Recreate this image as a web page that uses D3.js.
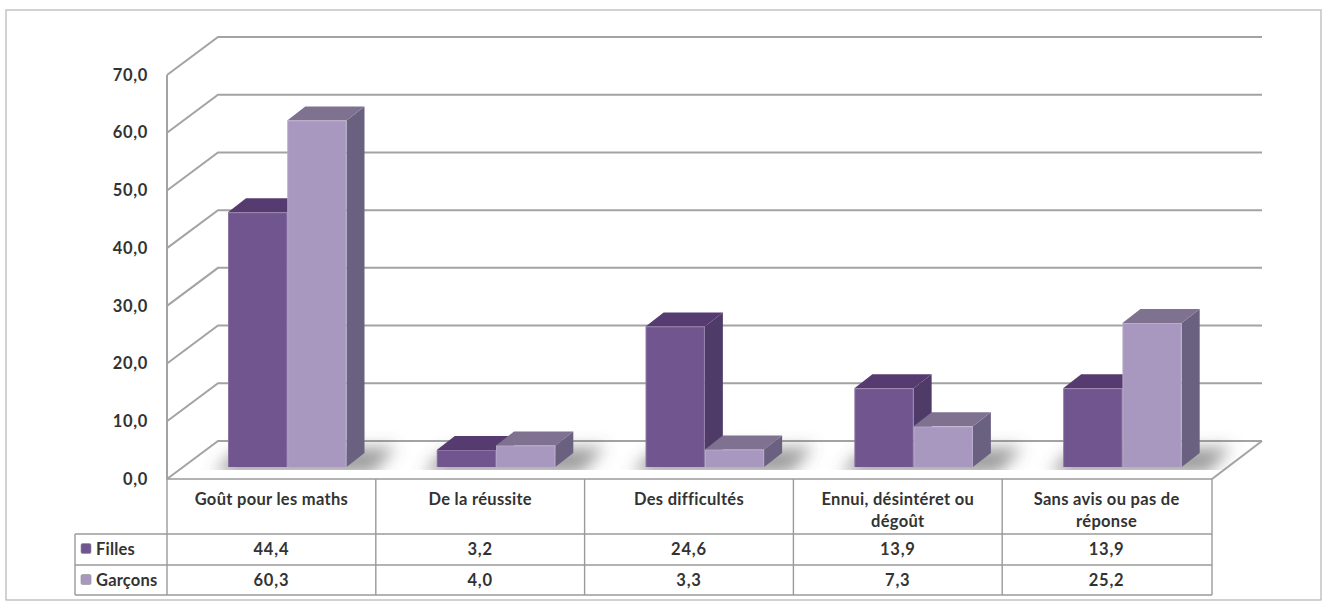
<!DOCTYPE html>
<html><head><meta charset="utf-8">
<script src="https://cdn.jsdelivr.net/npm/d3@7"></script>
<style>html,body{margin:0;padding:0;background:#fff}svg{display:block}text{font-family:Lato,sans-serif;font-weight:700;fill:#333}</style>
</head><body><svg id="c" width="1322" height="603"></svg>
<script>
const categories=[["Goût pour les maths"],["De la réussite"],["Des difficultés"],["Ennui, désintéret ou","dégoût"],["Sans avis ou pas de","réponse"]];
const seriesNames=["Filles","Garçons"];
const filles=[44.4,3.2,24.6,13.9,13.9];
const garcons=[60.3,4.0,3.3,7.3,25.2];
const yTicks=[0,10,20,30,40,50,60,70];
const frontColors=["#70558f","#a898bf"], topColors=["#573b70","#7f7290"], sideColors=["#4f3a68","#6b6080"];
const values=[filles,garcons];
const fmt=d3.formatLocale({decimal:",",thousands:" ",grouping:[3],currency:["","€"]}).format(".1f");

const svg=d3.select("#c");
const x=d3.scaleBand(categories.map((d,i)=>i),[167,1211]);
const y=d3.scaleLinear([0,70],[479,75]);
const wall={dx:51,dy:-38}, bar={dx:18,dy:-14}, inset={dx:0,dy:-10.5};
const grid="#a3a3a3", tbl="#9a9a9a";
const defs=svg.append("defs");
defs.append("filter").attr("id","sh").attr("x","-30%").attr("y","-100%").attr("width","160%").attr("height","300%")
 .append("feGaussianBlur").attr("stdDeviation",8);
defs.append("filter").attr("id","soft").attr("x","-5%").attr("y","-5%").attr("width","110%").attr("height","110%").append("feGaussianBlur").attr("stdDeviation",0.5);
defs.append("clipPath").attr("id","fl").append("rect").attr("x",167).attr("y",420).attr("width",1100).attr("height",50);

// frame
svg.append("rect").attr("x",6).attr("y",10).attr("width",1315).attr("height",590).attr("fill","#fff").attr("stroke","#b5b5b5").attr("stroke-width",1.2);

// walls
const g=svg.append("g").attr("fill","none").attr("stroke",grid).attr("stroke-width",2);
yTicks.forEach(t=>{
  g.append("path").attr("d",d3.line()([[x.range()[0],y(t)],[x.range()[0]+wall.dx,y(t)+wall.dy],[1262,y(t)+wall.dy]]));
});
g.append("path").attr("d",d3.line()([[1262,y(0)+wall.dy],[1212,y(0)]]));
g.append("path").attr("d",d3.line()([[167,y(0)],[167,y(70)]]));

// shadows
const sh=svg.append("g").attr("clip-path","url(#fl)").append("g").attr("filter","url(#sh)");
const sub=d3.scaleBand(seriesNames,[61,61+118.5]);
const base=467;
categories.forEach((c,i)=>{
  const x0=x(i)+sub(seriesNames[0]), x1=x(i)+sub(seriesNames[1])+sub.bandwidth();
  sh.append("path").attr("fill","#5a5a5a").attr("opacity",.6)
    .attr("d",d3.line()([[x0-14,base+6],[x0+8,base-16],[x1+50,base-20],[x1+26,base+6]]));
});

// bars
const bars=svg.append("g").attr("filter","url(#soft)");
categories.forEach((c,i)=>{
  seriesNames.forEach((s,k)=>{
    const v=values[k][i];
    const l=x(i)+sub(s), r=l+sub.bandwidth(), t=y(v)+inset.dy;
    const d=bar;
    bars.append("path").attr("fill",sideColors[k]).attr("d",d3.line()([[r,t],[r+d.dx,t+d.dy],[r+d.dx,base+d.dy],[r,base]])+"Z");
    bars.append("path").attr("fill",topColors[k]).attr("d",d3.line()([[l,t],[l+d.dx,t+d.dy],[r+d.dx,t+d.dy],[r,t]])+"Z");
    bars.append("rect").attr("x",l).attr("y",t).attr("width",r-l).attr("height",base-t).attr("fill",frontColors[k]);
    bars.append("path").attr("fill","none").attr("stroke","#fff").attr("stroke-opacity",.18).attr("stroke-width",1)
      .attr("d",d3.line()([[l+.5,base],[l+.5,t+.5],[r-.5,t+.5],[r-.5,base]]));
  });
});

// axis
const ax=d3.axisLeft(y).tickValues(yTicks).tickFormat(fmt).tickSize(0).tickPadding(19);
const ag=svg.append("g").attr("transform","translate(167,0)").call(ax);
ag.select(".domain").remove();
ag.selectAll("text").style("font-size","16.5px").style("letter-spacing","0.7px").attr("fill","#333");

// table
const rows=[479,534,565,595];
const t=svg.append("g").attr("stroke",tbl).attr("stroke-width",1.4).attr("fill","none");
t.append("path").attr("d",`M167 ${rows[0]}H1212`);
t.append("path").attr("d",`M75 ${rows[1]}H1212M75 ${rows[2]}H1212M75 ${rows[3]}H1212`);
t.append("path").attr("d",`M75 ${rows[1]}V${rows[3]}`);
d3.range(6).forEach(i=>{
  const xx=i<5?x(i):1212;
  t.append("path").attr("d",`M${xx} ${rows[0]}V${rows[3]}`);
});
const lab=svg.append("g").style("font-size","16.5px");
categories.forEach((c,i)=>{
  c.forEach((ln,j)=>lab.append("text").attr("x",x(i)+x.bandwidth()/2).attr("y",505+j*22).attr("text-anchor","middle").style("letter-spacing","0.3px").text(ln));
  values.forEach((vs,k)=>lab.append("text").attr("x",x(i)+x.bandwidth()/2).attr("y",rows[k+1]+21).attr("text-anchor","middle").style("letter-spacing","0.8px").text(fmt(vs[i])));
});
seriesNames.forEach((s,k)=>{
  const yy=rows[k+1];
  svg.append("rect").attr("x",81).attr("y",yy+9.5).attr("width",10).attr("height",10).attr("rx",1.5).attr("fill",frontColors[k]).attr("stroke","#8f8f8f").attr("stroke-width",.6);
  lab.append("text").attr("x",96).attr("y",yy+21).style("letter-spacing","0.2px").text(s);
});
</script></body></html>
